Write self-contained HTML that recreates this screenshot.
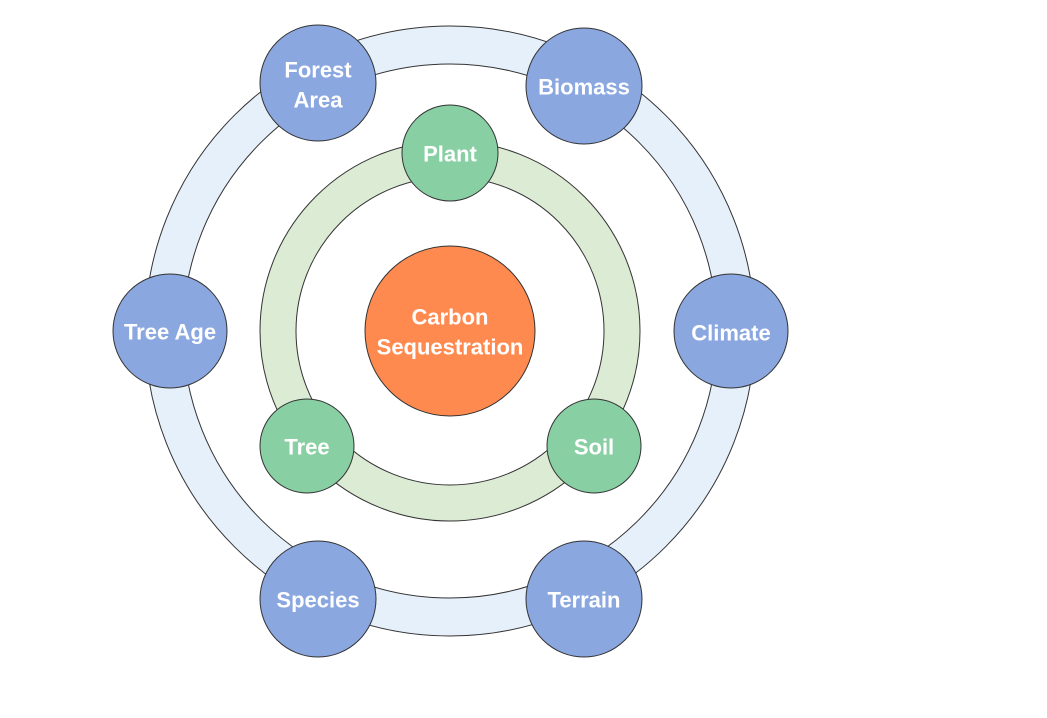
<!DOCTYPE html>
<html><head><meta charset="utf-8"><style>
html,body{margin:0;padding:0;background:#fff;}
svg{display:block;}
text{font-family:"Liberation Sans",Arial,sans-serif;font-weight:bold;fill:#fff;font-size:22px;text-anchor:middle;dominant-baseline:central;}
</style></head><body>
<svg width="1047" height="718" viewBox="0 0 1047 718">
<circle cx="450" cy="331" r="286" fill="none" stroke="#333" stroke-width="39"/>
<circle cx="450" cy="331" r="286" fill="none" stroke="#E6F0FB" stroke-width="37"/>
<circle cx="450" cy="331" r="172" fill="none" stroke="#333" stroke-width="37"/>
<circle cx="450" cy="331" r="172" fill="none" stroke="#DCEBD4" stroke-width="35"/>
<circle cx="450" cy="331" r="85" fill="#FF8A50" stroke="#333" stroke-width="1"/>
<text x="450" y="317">Carbon</text><text x="450" y="347">Sequestration</text>
<g fill="#88D0A4" stroke="#333" stroke-width="1">
<circle cx="450" cy="153" r="48"/><circle cx="307" cy="446" r="47"/><circle cx="594" cy="446" r="47"/>
</g>
<text x="450" y="154">Plant</text><text x="307" y="447">Tree</text><text x="594" y="447">Soil</text>
<g fill="#8BA7E0" stroke="#333" stroke-width="1">
<circle cx="318" cy="83" r="58"/><circle cx="584" cy="86" r="58"/>
<circle cx="731" cy="331" r="57"/><circle cx="170" cy="331" r="57"/>
<circle cx="318" cy="599" r="58"/><circle cx="584" cy="599" r="58"/>
</g>
<text x="318" y="70">Forest</text><text x="318" y="100">Area</text>
<text x="584" y="87">Biomass</text>
<text x="731" y="333">Climate</text>
<text x="170" y="332">Tree Age</text>
<text x="318" y="600">Species</text>
<text x="584" y="600">Terrain</text>
</svg>
</body></html>
